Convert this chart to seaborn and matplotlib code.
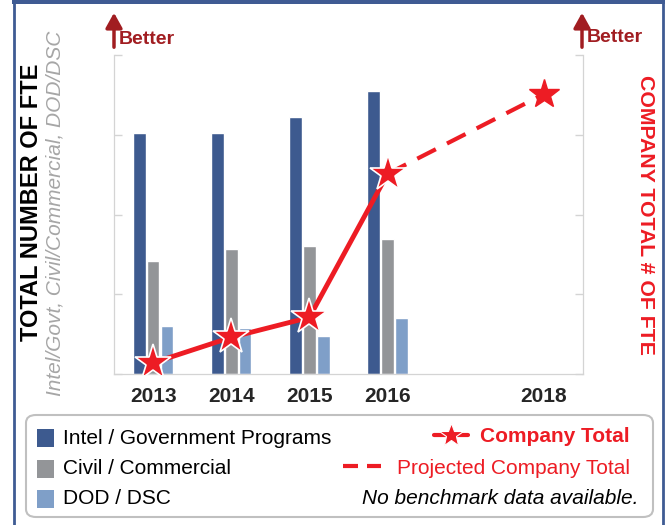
import numpy as np
import pandas as pd
import matplotlib
matplotlib.use('Agg')
import matplotlib.pyplot as plt
from matplotlib.patches import Rectangle, FancyBboxPatch
from matplotlib.lines import Line2D
import seaborn as sns

# chart values (arbitrary FTE units, axis has no numbers)
years = ['2013', '2014', '2015', '2016', '2017', '2018']
bar_years = ['2013', '2014', '2015', '2016']
intel = [3.02, 3.02, 3.22, 3.55]
civil = [1.42, 1.57, 1.60, 1.69]
dod = [0.60, 0.58, 0.48, 0.70]
total_years = ['2013', '2014', '2015', '2016']
company_total = [0.14, 0.46, 0.71, 2.51]
proj_years = ['2016', '2018']
projected_total = [2.51, 3.51]
year_labels = ['2013', '2014', '2015', '2016', '', '2018']

series = ['Intel / Government Programs', 'Civil / Commercial', 'DOD / DSC']
colors = ['#3d5a8f', '#939598', '#7f9fc8']
RED = '#ed1c24'
DARKRED = '#a11d21'
FRAME = '#3f5b93'
SPINE = '#d4d4d4'

df = pd.DataFrame({
    'year': bar_years * 3,
    'series': np.repeat(series, len(bar_years)),
    'fte': intel + civil + dod,
})

sns.set_style('white')
plt.rcParams['font.family'] = ['Liberation Sans', 'DejaVu Sans']

W, H = 668, 525
fig = plt.figure(figsize=(W / 100, H / 100), dpi=100)


def fx(x):
    return x / W


def fy(y):
    return 1 - y / H


ax = fig.add_axes([fx(114), fy(374), fx(583) - fx(114), fy(55) - fy(374)])
sns.barplot(data=df, x='year', y='fte', hue='series', order=years, hue_order=series,
            palette=dict(zip(series, colors)), width=0.53, gap=0.08, saturation=1,
            legend=False, ax=ax)
ax.set_xlim(-0.5, 5.5)
ax.set_ylim(0, 4)
ax.set_xlabel('')
ax.set_ylabel('')
ax.set_xticks(range(len(years)))
ax.set_xticklabels(year_labels, fontsize=15, fontweight='bold')
ax.set_xticks(np.arange(0.5, 5, 1), minor=True)
ax.tick_params(axis='x', which='major', length=0, pad=9)
ax.tick_params(axis='x', which='minor', direction='in', length=7, color=SPINE, width=1)
ax.set_yticks([0, 1, 2, 3, 4])
ax.set_yticklabels([])
ax.tick_params(axis='y', direction='in', length=6, color=SPINE, width=1, left=True)
for s in ['left', 'right', 'bottom']:
    ax.spines[s].set_visible(True)
    ax.spines[s].set_color(SPINE)
ax.spines['top'].set_visible(False)

ax2 = ax.twinx()
ax2.set_position(ax.get_position())
pos = {y: i for i, y in enumerate(years)}
sns.lineplot(x=[pos[y] for y in proj_years], y=projected_total, ax=ax2, color=RED,
             lw=3, dashes=False, linestyle=(0, (5, 3)), zorder=2)
ax2.plot([pos[proj_years[-1]]], [projected_total[-1]], marker='*', ms=22, color=RED,
         mec=RED, ls='none', zorder=3)
sns.lineplot(x=[pos[y] for y in total_years], y=company_total, ax=ax2, color=RED, lw=3.5,
             marker='*', markersize=27, markeredgecolor='white', markeredgewidth=1.2,
             zorder=4)
ax2.set_ylim(0, 4)
ax2.set_xlim(-0.5, 5.5)
ax2.set_yticks([0, 1, 2, 3, 4])
ax2.set_yticklabels([])
ax2.tick_params(axis='y', direction='in', length=6, color=SPINE, width=1, right=True)
for s in ['left', 'right', 'bottom']:
    ax2.spines[s].set_color(SPINE)
ax2.spines['top'].set_visible(False)

# axis titles
fig.text(fx(32), fy(202), 'TOTAL NUMBER OF FTE', rotation=90, ha='center', va='center',
         fontsize=17, fontweight='bold', color='black')
fig.text(fx(55), fy(213), 'Intel/Govt, Civil/Commercial, DOD/DSC', rotation=90,
         ha='center', va='center', fontsize=15, style='italic', color='#a6a6a6')
fig.text(fx(646), fy(215), 'COMPANY TOTAL # OF FTE', rotation=270, ha='center',
         va='center', fontsize=15.3, fontweight='bold', color=RED)

# "Better" arrows
for ax_x, tx, ty in [(114, 119, 40), (582, 587, 38)]:
    fig.add_artist(matplotlib.patches.FancyArrowPatch(
        (fx(ax_x), fy(50)), (fx(ax_x), fy(10)), transform=fig.transFigure,
        arrowstyle='-|>,head_length=9,head_width=5', lw=2.5, color=DARKRED))
    fig.text(fx(tx), fy(ty), 'Better', ha='left', va='center', fontsize=14,
             fontweight='bold', color=DARKRED)

# outer frame
fig.add_artist(Rectangle((fx(12), fy(4)), fx(665) - fx(12), fy(0) - fy(4),
                         transform=fig.transFigure, color=FRAME, lw=0))
fig.add_artist(Line2D([fx(13.5), fx(13.5)], [0, 1], transform=fig.transFigure,
                      color=FRAME, lw=2))
fig.add_artist(Line2D([fx(663), fx(663)], [0, 1], transform=fig.transFigure,
                      color=FRAME, lw=2))

# legend box
fig.add_artist(FancyBboxPatch((fx(26), fy(517)), fx(653) - fx(26), fy(415) - fy(517),
                              boxstyle='round,pad=0,rounding_size=0.015',
                              transform=fig.transFigure, fc='white', ec='#c0c0c0', lw=1.5))
for i, (name, c) in enumerate(zip(series, colors)):
    yc = 438 + i * 30.5
    fig.add_artist(Rectangle((fx(37), fy(yc + 9)), fx(17), fy(0) - fy(18),
                             transform=fig.transFigure, color=c, lw=0))
    fig.text(fx(63), fy(yc), name, ha='left', va='center', fontsize=15, color='black')

fig.add_artist(Line2D([fx(434), fx(468)], [fy(435), fy(435)], transform=fig.transFigure,
                      color=RED, lw=3))
fig.add_artist(Line2D([fx(451)], [fy(435)], transform=fig.transFigure, marker='*',
                      ms=18, color=RED, mec='white', mew=0.8, ls='none'))
fig.text(fx(630), fy(436), 'Company Total', ha='right', va='center', fontsize=15,
         fontweight='bold', color=RED)
for x0, x1 in [(343, 358), (367, 381)]:
    fig.add_artist(Line2D([fx(x0), fx(x1)], [fy(466), fy(466)], transform=fig.transFigure,
                          color=RED, lw=3, solid_capstyle='butt'))
fig.text(fx(630), fy(468), 'Projected Company Total', ha='right', va='center',
         fontsize=15, color=RED)
fig.text(fx(638), fy(499), 'No benchmark data available.', ha='right', va='center',
         fontsize=15, style='italic', color='black')

fig.savefig('out.png', dpi=100)
